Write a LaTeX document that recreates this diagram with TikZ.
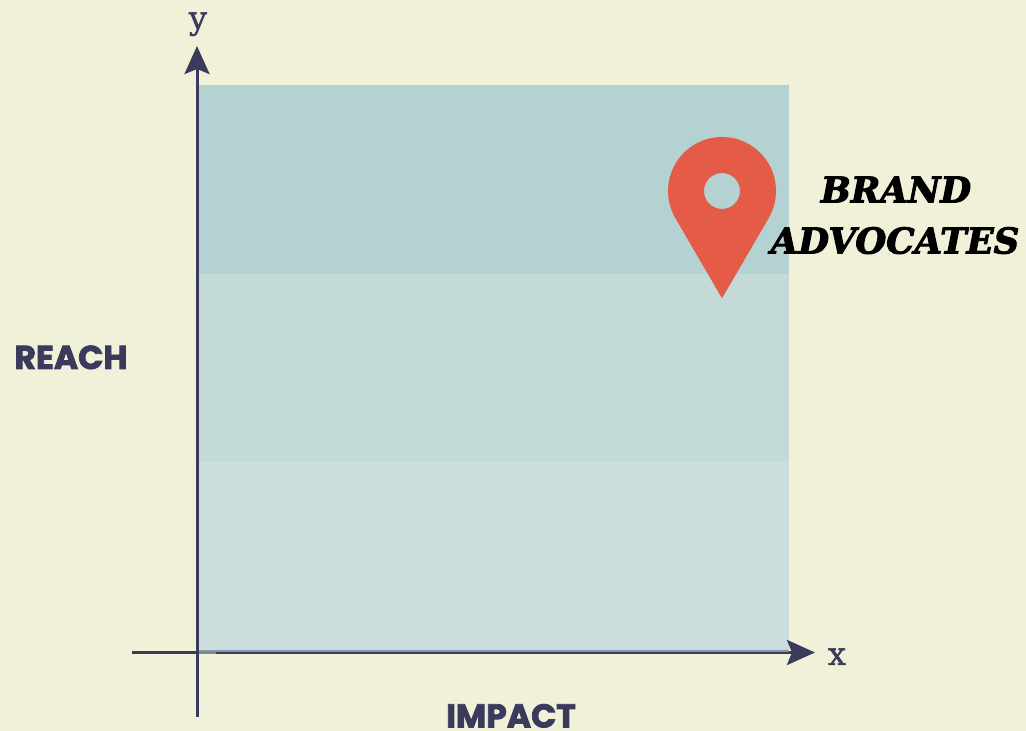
\documentclass[tikz,border=0pt]{standalone}
\usepackage{fontspec}
\usetikzlibrary{arrows.meta}
\newfontfamily\labelfont{Poppins}
\newfontfamily\slabfont{DejaVu Serif}
\newcommand{\heavy}[2]{\special{pdf:code 2 Tr #1 w}#2\special{pdf:code 0 Tr}}
\definecolor{bgc}{HTML}{F1F1D9}
\definecolor{bandtop}{HTML}{B4D2D2}
\definecolor{bandmid}{HTML}{C4DAD8}
\definecolor{bandlow}{HTML}{CBDEDD}
\definecolor{axisc}{HTML}{3A3A5C}
\definecolor{pinc}{HTML}{E45C47}
\tikzset{
  axisline/.style={draw=axisc,line width=3pt,-{Stealth[length=28pt,width=25pt,inset=5pt]}},
  band/.style={fill=#1,draw=none},
  axlabel/.style={font=\labelfont\bfseries\fontsize{33}{33}\selectfont,text=axisc,inner sep=0pt,anchor=base},
  letter/.style={font=\slabfont\fontsize{32}{32}\selectfont,text=axisc,inner sep=0pt,anchor=base},
  brand/.style={font=\slabfont\bfseries\itshape\fontsize{35.5}{35.5}\selectfont,text=black,inner sep=0pt,anchor=base}
}
\begin{document}
\begin{tikzpicture}[x=1pt,y=1pt]
\useasboundingbox[fill=bgc] (0,0) rectangle (1026,731);
\fill[band=bandlow] (198,79.5) rectangle (789,269);
\fill[band=bandmid] (198,269) rectangle (789,457);
\fill[band=bandtop] (198,457) rectangle (789,646);
\coordinate (ybot) at (197,14);
\coordinate (ytop) at (197,685);
\coordinate (xleft) at (132,78.5);
\coordinate (xright) at (815,78.5);
\draw[axisline] (ybot) -- (ytop);
\draw[axisline] (xleft) -- (xright);
\fill[axisc!45!bandlow,opacity=.85] (198.5,76.5) rectangle (216,80.5);
\fill[axisc!45!bandlow] (216,78.7) rectangle (789,80.5);
% pin
\coordinate (pintip) at (722,432.7);
\coordinate (pincentre) at (722,540);
\fill[pinc,even odd rule] (pintip) -- (675.4,512.8) arc[start angle=210.3,end angle=-30.3,radius=54] -- cycle
  (pincentre) ++(18,0) arc[start angle=0,end angle=360,radius=18];
% labels
\node[letter] (ylab) at (198,702) {\heavy{0.4}{y}};
\node[letter] (xlab) at (837,66) {\heavy{0.4}{x}};
\node[axlabel] (reach) at (71,362) {\heavy{0.8}{REACH}};
\node[axlabel] (impact) at (511,3.5) {\heavy{0.8}{IMPACT}};
\node[brand] (b1) at (896,528.5) {\heavy{1}{BRAND}};
\node[brand] (b2) at (895,477.5) {\heavy{1}{ADVOCATES}};
\end{tikzpicture}
\end{document}
